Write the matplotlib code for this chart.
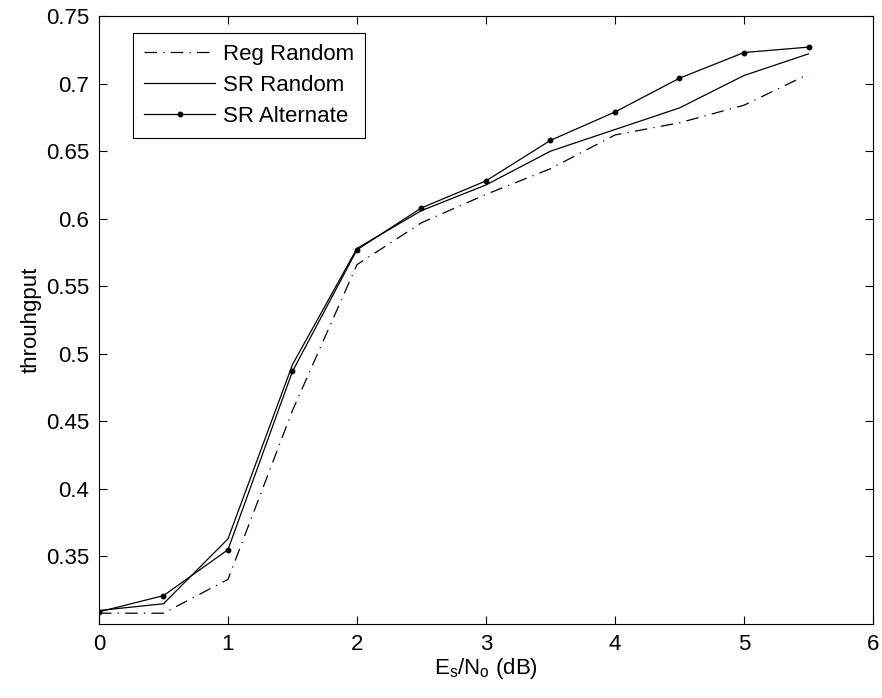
import matplotlib
matplotlib.use('Agg')
import matplotlib.pyplot as plt

# ============================================================
# DATA
# ============================================================
snr_db = [0, 0.5, 1, 1.5, 2, 2.5, 3, 3.5, 4, 4.5, 5, 5.5]
reg_random = [0.308, 0.308, 0.333, 0.458, 0.566, 0.597, 0.618, 0.637, 0.662, 0.671, 0.684, 0.707]
sr_random = [0.310, 0.315, 0.363, 0.492, 0.578, 0.606, 0.625, 0.650, 0.666, 0.682, 0.706, 0.722]
sr_alternate = [0.309, 0.321, 0.355, 0.487, 0.577, 0.608, 0.628, 0.658, 0.679, 0.704, 0.723, 0.727]

x_ticks = [0, 1, 2, 3, 4, 5, 6]
y_ticks = [0.35, 0.4, 0.45, 0.5, 0.55, 0.6, 0.65, 0.7, 0.75]
y_ticklabels = ['0.35', '0.4', '0.45', '0.5', '0.55', '0.6', '0.65', '0.7', '0.75']

# ============================================================
# PLOT
# ============================================================
plt.rcParams['font.family'] = ['Liberation Sans', 'DejaVu Sans']
plt.rcParams['font.size'] = 16
plt.rcParams['mathtext.fontset'] = 'custom'
plt.rcParams['mathtext.rm'] = 'Liberation Sans'

fig = plt.figure(figsize=(8.82, 6.98), dpi=100)
ax = fig.add_axes([0.1122, 0.106, 0.8776, 0.871])

ax.plot(snr_db, reg_random, color='black', linewidth=0.9,
        dashes=[10, 5, 1, 5], label='Reg Random')
ax.plot(snr_db, sr_random, color='black', linewidth=0.9, label='SR Random')
ax.plot(snr_db, sr_alternate, color='black', linewidth=0.9,
        marker='o', markersize=3.2, label='SR Alternate')

ax.set_xlim(0, 6)
ax.set_ylim(0.3, 0.75)
ax.set_xticks(x_ticks)
ax.set_yticks(y_ticks)
ax.set_yticklabels(y_ticklabels)
ax.tick_params(direction='in', top=True, right=True, length=6, width=0.8, pad=7)
for sp in ax.spines.values():
    sp.set_linewidth(0.8)

ax.set_xlabel(r'E$_\mathregular{s}$/N$_\mathregular{o}$ (dB)', labelpad=1)
ax.set_ylabel('throuhgput', labelpad=3)

leg = ax.legend(loc='upper left', bbox_to_anchor=(0.044, 0.972), fancybox=False,
                edgecolor='black', framealpha=1, handlelength=3.2,
                borderpad=0.5, labelspacing=0.45, handletextpad=0.35,
                borderaxespad=0)
leg.get_frame().set_linewidth(0.8)

fig.savefig('out.png', dpi=100)
